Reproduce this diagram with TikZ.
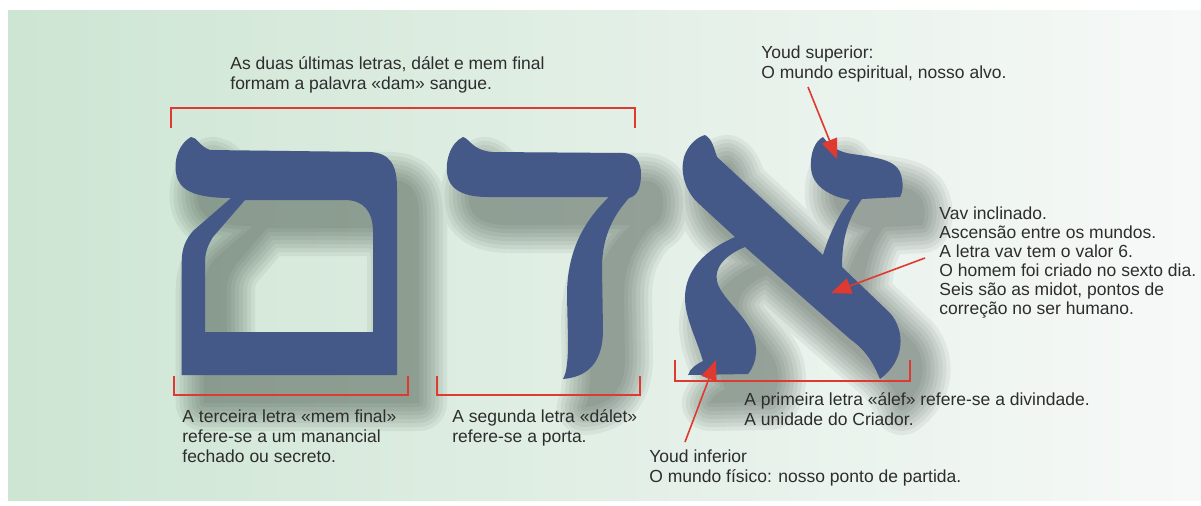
\documentclass[tikz,border=0pt]{standalone}
\usepackage{fontspec}
\setmainfont{Liberation Sans}
\usetikzlibrary{arrows.meta}

\definecolor{azulletra}{RGB}{68,89,136}
\definecolor{rojo}{RGB}{222,58,50}
\definecolor{texto}{RGB}{45,45,45}
\definecolor{fondoizq}{RGB}{205,229,211}
\definecolor{fondomed}{RGB}{220,237,227}
\definecolor{fondoder}{RGB}{247,249,248}
\definecolor{sombra}{RGB}{35,50,40}

\tikzset{
  letra/.style={fill=azulletra, even odd rule},
  sombraletra/.style={sombra, line join=round, even odd rule, shift={(22,28)}},
  corchete/.style={draw=rojo, line width=0.9pt},
  flecha/.style={draw=rojo, line width=0.8pt, -{Triangle[length=10pt,width=8pt]}},
  nota/.style={anchor=base west, align=left, inner sep=0pt, text=texto,
    font=\fontsize{8.75}{10}\selectfont},
}

% Contornos de las letras (en pixeles)
\newcommand{\letramem}{(181.7,375) -- (181.7,262) .. controls (181.7,248) and (186,239) .. (193,231)
  -- (231,198) .. controls (205,198) and (184,194) .. (178,180)
  .. controls (172,165) and (177,145) .. (191,137) .. controls (197,137) and (199,146) .. (210,150)
  -- (370,152) .. controls (390,153) and (397,165) .. (397,188) -- (397,375) -- cycle
  (205,332) -- (205,263) .. controls (205,252) and (208,245) .. (213,237) -- (245,200)
  -- (345,200) .. controls (364,200) and (373,212) .. (373,232) -- (373,332) -- cycle}
\newcommand{\letradalet}{(563,379) .. controls (567,372) and (568,360) .. (568,340) -- (567,295)
  .. controls (567,250) and (585,220) .. (609,197) -- (488,197)
  .. controls (468,197) and (452,192) .. (448,178) .. controls (444,163) and (450,143) .. (463,137)
  .. controls (470,139) and (472,150) .. (492,152) -- (624,153)
  .. controls (636,154) and (641,162) .. (641,174) .. controls (641,188) and (637,196) .. (629,198)
  .. controls (611,218) and (602,240) .. (602,268) -- (603,330)
  .. controls (603,362) and (588,377) .. (563,379) -- cycle}
\newcommand{\letraalef}{(705,135) .. controls (712,139) and (714,148) .. (717,157) -- (823,255)
  .. controls (828,238) and (838,215) .. (850,200) .. controls (828,196) and (812,185) .. (811,168)
  .. controls (810,153) and (815,141) .. (823,137) .. controls (830,146) and (838,152) .. (852,154)
  .. controls (875,157) and (895,160) .. (900,172) .. controls (904,182) and (903,192) .. (900,197)
  -- (862,199) .. controls (850,215) and (842,235) .. (842,267) -- (890,313)
  .. controls (905,330) and (906,360) .. (880,379) .. controls (872,360) and (865,350) .. (850,339)
  -- (745,247) .. controls (725,255) and (714,268) .. (717,281)
  .. controls (720,296) and (742,312) .. (752,332) .. controls (758,345) and (758,362) .. (748,374)
  -- (688,375) .. controls (690,368) and (697,364) .. (703,361)
  .. controls (697,340) and (685,318) .. (685,298) .. controls (685,270) and (705,250) .. (735,237)
  -- (697,202) .. controls (685,190) and (680,172) .. (684,157)
  .. controls (688,145) and (697,137) .. (705,135) -- cycle}

\begin{document}
\begin{tikzpicture}[x=0.5pt,y=-0.5pt]
  \useasboundingbox (0,0) rectangle (1201,505);
  % Fondo
  \fill[white] (0,0) rectangle (1201,505);
  \shade[left color=fondoizq, middle color=fondomed, right color=fondoder] (8,10) rectangle (1201,500);
  % Sombras difusas
  \foreach \w in {0.1,4,8,12,16,20,24,28} {
    \begin{scope}[transparency group, opacity=0.062]
      \filldraw[sombraletra, line width=\w pt] \letramem \letradalet \letraalef;
    \end{scope}
  }
  % Letras
  \fill[letra] \letramem;
  \fill[letra] \letradalet;
  \fill[letra] \letraalef;
  % Corchetes
  \draw[corchete] (171,128) -- (171,108) -- (635,108) -- (635,128);
  \draw[corchete] (174,376) -- (174,395) -- (408,395) -- (408,376);
  \draw[corchete] (437,376) -- (437,395) -- (640,395) -- (640,376);
  \draw[corchete] (675,360) -- (675,381) -- (910,381) -- (910,360);
  % Textos
  \node[nota] (dam) at (230,89.5) {As duas últimas letras, dálet e mem final\\formam a palavra «dam» sangue.};
  \node[nota] (yodsuptxt) at (761,78) {Youd superior:\\O mundo espiritual, nosso alvo.};
  \node[nota, font=\fontsize{8.75}{9.5}\selectfont] (vavtxt) at (939,314) {Vav inclinado.\\Ascensão entre os mundos.\\A letra vav tem o valor 6.\\O homem foi criado no sexto dia.\\Seis são as midot, pontos de\\correção no ser humano.};
  \node[nota] (memtxt) at (182,462) {A terceira letra «mem final»\\refere-se a um manancial\\fechado ou secreto.};
  \node[nota] (dalettxt) at (452,442) {A segunda letra «dálet»\\refere-se a porta.};
  \node[nota] (aleftxt) at (744,425) {A primeira letra «álef» refere-se a divindade.\\A unidade do Criador.};
  \node[nota] (yodinftxt) at (649,482) {Youd inferior\\O mundo físico: nosso ponto de partida.};
  % Flechas
  \coordinate (yodsupini) at (808,87);
  \coordinate (yodsup) at (837,159);
  \coordinate (vavini) at (925,258);
  \coordinate (vav) at (831,293);
  \coordinate (yodinfini) at (685,442);
  \coordinate (yodinf) at (716,360);
  \draw[flecha] (yodsupini) -- (yodsup);
  \draw[flecha] (vavini) -- (vav);
  \draw[flecha] (yodinfini) -- (yodinf);
\end{tikzpicture}
\end{document}
